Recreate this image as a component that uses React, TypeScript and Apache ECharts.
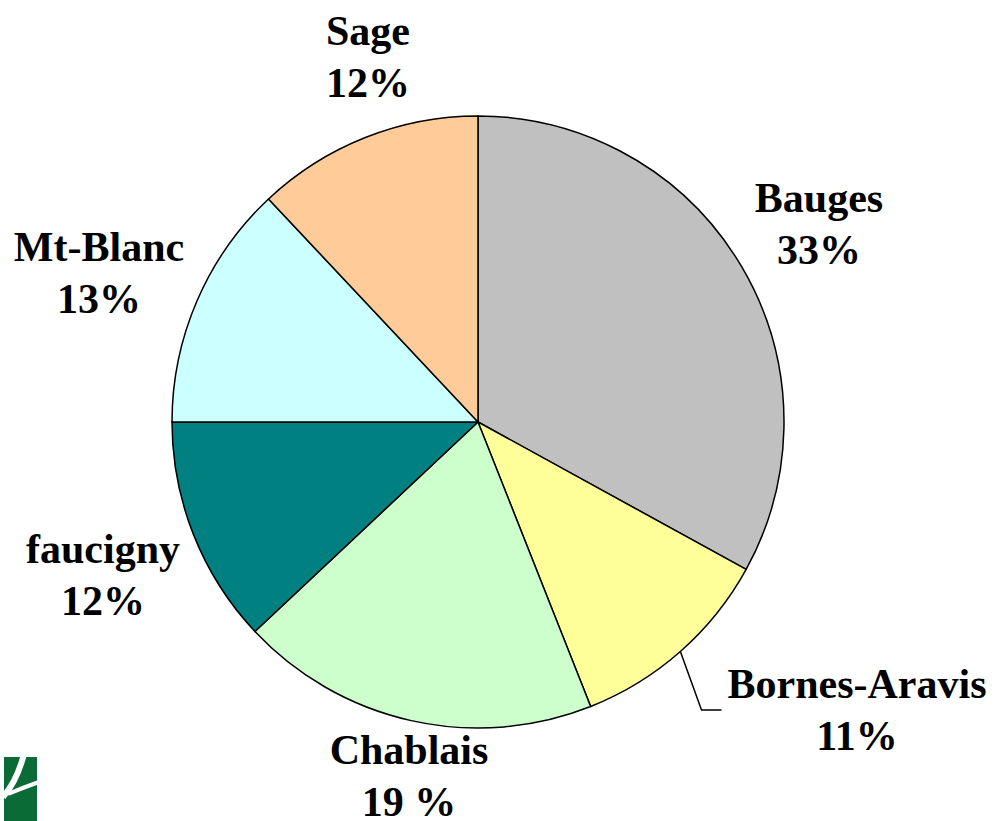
import React, { useEffect, useRef } from "react";
import * as echarts from "echarts";

const categories = ["Bauges", "Bornes-Aravis", "Chablais", "faucigny", "Mt-Blanc", "Sage"];
const values = [33, 11, 19, 12, 13, 12];
const percentLabels = ["33%", "11%", "19 %", "12%", "13%", "12%"];
const sliceColors = ["#C0C0C0", "#FFFF99", "#CCFFCC", "#008080", "#CCFFFF", "#FFCC99"];

// layout only: label block centres (px)
const labelCenters: number[][] = [
  [819, 224],
  [857, 710],
  [409, 776],
  [103, 575],
  [99, 273],
  [368, 57],
];
const leaderIndex = 1;
const CENTER = [478, 422];
const RADIUS = 306;

export default function App() {
  const ref = useRef<HTMLDivElement>(null);
  useEffect(() => {
    if (!ref.current) return;
    const chart = echarts.init(ref.current, null, { renderer: "svg" });
    const total = values.reduce((a, b) => a + b, 0);
    const data = categories.map((name, i) => ({
      name,
      value: values[i],
      itemStyle: { color: sliceColors[i] },
      labelLine: { show: i === leaderIndex },
    }));
    chart.setOption({
      animation: false,
      backgroundColor: "#ffffff",
      graphic: [
        {
          type: "group",
          left: 0,
          bottom: 0,
          children: [
            { type: "rect", shape: { x: 0, y: 0, width: 33, height: 64 }, style: { fill: "#0b6b36" } },
            {
              type: "bezierCurve",
              shape: { x1: 20, y1: -3, x2: -1, y2: 40, cpx1: 13, cpy1: 24 },
              style: { stroke: "#ffffff", lineWidth: 6, fill: null },
            },
            {
              type: "bezierCurve",
              shape: { x1: 4, y1: 37, x2: 35, y2: 25, cpx1: 18, cpy1: 31 },
              style: { stroke: "#ffffff", lineWidth: 4, fill: null },
            },
          ],
        },
      ],
      series: [
        {
          type: "pie",
          center: CENTER,
          radius: RADIUS,
          startAngle: 90,
          clockwise: true,
          avoidLabelOverlap: false,
          data,
          itemStyle: { borderColor: "#000000", borderWidth: 1.5 },
          label: {
            show: true,
            position: "outside",
            formatter: (p: any) => `${p.name}\n${percentLabels[p.dataIndex]}`,
            fontFamily: "Liberation Serif",
            fontWeight: "bold",
            fontSize: 42,
            lineHeight: 52,
            color: "#000000",
            align: "center",
          },
          labelLine: {
            show: true,
            length: 20,
            length2: 20,
            lineStyle: { color: "#000000", width: 1.5 },
          },
          emphasis: { disabled: true },
          labelLayout: (params: any) => {
            const i = params.dataIndex;
            const [cx, cy] = labelCenters[i];
            const res: any = { x: cx, y: cy, align: "center", verticalAlign: "middle" };
            if (i === leaderIndex) {
              let start: number[];
              if (params.labelLinePoints && params.labelLinePoints[0]) {
                start = params.labelLinePoints[0];
              } else {
                let before = 0;
                for (let k = 0; k < i; k++) before += values[k];
                const mid = ((before + values[i] / 2) / total) * Math.PI * 2;
                start = [CENTER[0] + RADIUS * Math.sin(mid), CENTER[1] - RADIUS * Math.cos(mid)];
              }
              const ax = cx - params.labelRect.width / 2 - 6;
              res.labelLinePoints = [start, [ax - 20, cy], [ax, cy]];
            }
            return res;
          },
        },
      ],
    });
    return () => chart.dispose();
  }, []);
  return (
    <div
      ref={ref}
      style={{ position: "fixed", left: 0, top: 0, width: 999, height: 821 }}
    />
  );
}
